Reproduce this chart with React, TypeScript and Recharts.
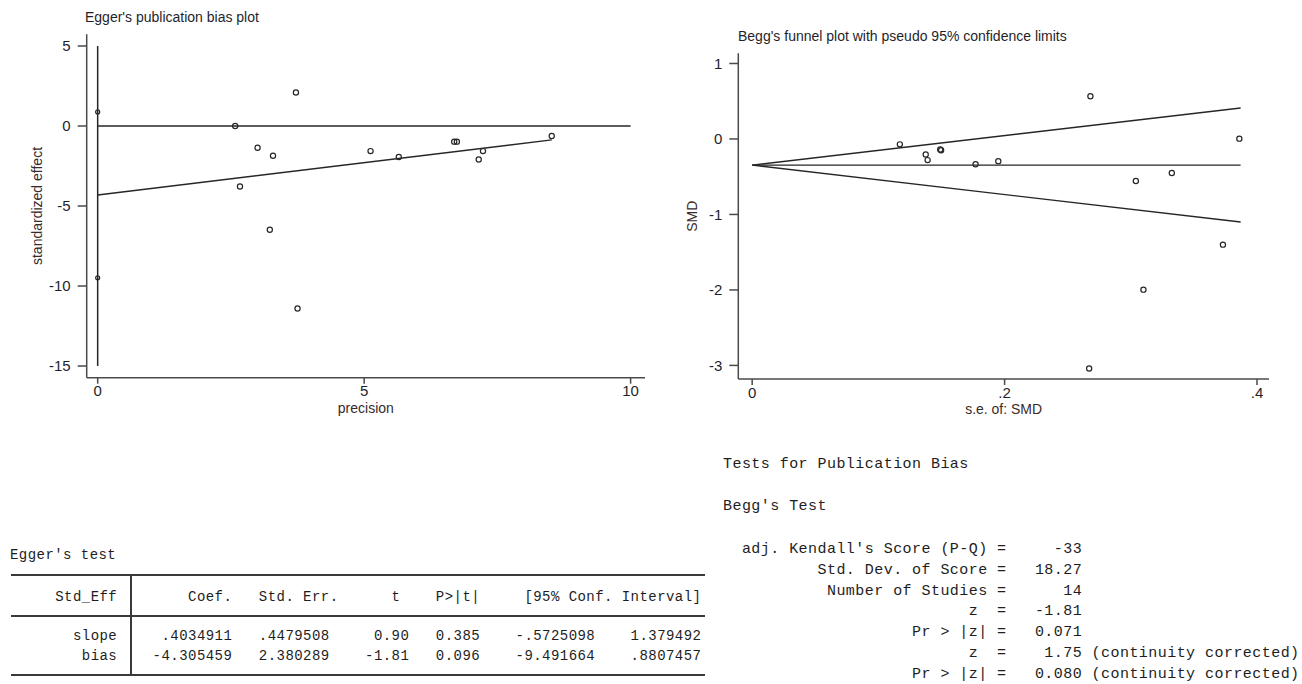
import { Label, ReferenceLine, Scatter, ScatterChart, XAxis, YAxis } from "recharts";

// Egger's plot: precision vs standardized effect
const eggerPrecision = [2.58, 2.67, 3.0, 3.23, 3.29, 3.72, 3.75, 5.12, 5.65, 6.69, 6.74, 7.15, 7.23, 8.52];
const eggerEffect = [0.0, -3.78, -1.36, -6.48, -1.86, 2.09, -11.41, -1.57, -1.94, -0.98, -0.98, -2.09, -1.57, -0.63];
const eggerCi = [0.88, -9.49];
const eggerFitX = [0, 8.52];
const eggerFitY = [-4.31, -0.87];
const eggerVLine = [-15, 5];
const eggerZeroLine = [0, 10];
const eggerXTicks = [0, 5, 10];
const eggerYTicks = [-15, -10, -5, 0, 5];

// Begg's funnel: s.e. vs SMD
const beggSe = [0.117, 0.1375, 0.139, 0.149, 0.1497, 0.177, 0.195, 0.268, 0.267, 0.304, 0.31, 0.3325, 0.373, 0.386];
const beggSmd = [-0.071, -0.205, -0.28, -0.14, -0.15, -0.334, -0.294, 0.566, -3.04, -0.557, -1.996, -0.45, -1.4, 0.004];
const beggPooled = -0.347;
const beggSeMax = 0.387;
const beggUpperEnd = 0.41;
const beggLowerEnd = -1.1;
const beggXTicks = [0, 0.2, 0.4];
const beggYTicks = [-3, -2, -1, 0, 1];

const eggerTable = [
  "     Std_Eff        Coef.   Std. Err.      t    P>|t|     [95% Conf. Interval]",
  "       slope     .4034911   .4479508     0.90   0.385    -.5725098    1.379492",
  "        bias    -4.305459   2.380289    -1.81   0.096    -9.491664    .8807457",
];

const beggLines = [
  "Tests for Publication Bias",
  "",
  "Begg's Test",
  "",
  "  adj. Kendall's Score (P-Q) =     -33",
  "          Std. Dev. of Score =   18.27",
  "           Number of Studies =      14",
  "                          z  =   -1.81",
  "                    Pr > |z| =   0.071",
  "                          z  =    1.75 (continuity corrected)",
  "                    Pr > |z| =   0.080 (continuity corrected)",
];

const SANS = '"Liberation Sans", Arial, sans-serif';
const MONO = '"Liberation Mono", "DejaVu Sans Mono", monospace';
const INK = "#262626";
const AXIS = "#4a4a4a";

const eggerPts = eggerPrecision.map((x, i) => ({ x, y: eggerEffect[i] }));
const eggerCiPts = eggerCi.map((y) => ({ x: 0, y }));
const beggPts = beggSe.map((x, i) => ({ x, y: beggSmd[i] }));

const ring = (r: number) => (p: any) => (
  <circle cx={p.cx} cy={p.cy} r={r} fill="none" stroke={INK} strokeWidth={1.2} />
);

const tickStyle = { fontSize: 15, fill: "#1f1f2a", fontFamily: SANS };
const fmtSe = (v: number) => (v === 0 ? "0" : String(v).replace(/^0/, ""));

function xTitle(text: string, dy: number) {
  return (p: any) => {
    const vb = p.viewBox;
    return (
      <text x={vb.x + vb.width / 2} y={vb.y + dy} textAnchor="middle" fontSize={14} fontFamily={SANS} fill="#3a2a2a">
        {text}
      </text>
    );
  };
}

function yTitle(text: string, bx: number) {
  return (p: any) => {
    const vb = p.viewBox;
    const cy = vb.y + vb.height / 2;
    return (
      <text x={bx} y={cy} transform={`rotate(-90, ${bx}, ${cy})`} textAnchor="middle" fontSize={14} fontFamily={SANS} fill="#3a2a2a">
        {text}
      </text>
    );
  };
}

function EggerPlot() {
  return (
    <ScatterChart width={660} height={420} margin={{ top: 34.3, right: 15, left: 26.7, bottom: 12.3 }}>
      <XAxis type="number" dataKey="x" domain={[-0.206, 10.27]} ticks={eggerXTicks} allowDataOverflow
        stroke={AXIS} strokeWidth={1.5} tick={tickStyle} tickSize={6} tickMargin={2} height={30}>
        <Label content={xTitle("precision", 35)} />
      </XAxis>
      <YAxis type="number" dataKey="y" domain={[-15.73, 5.73]} ticks={eggerYTicks} allowDataOverflow
        stroke={AXIS} strokeWidth={1.5} tick={tickStyle} tickSize={9} tickMargin={7} width={60}>
        <Label content={yTitle("standardized effect", 42)} />
      </YAxis>
      <ReferenceLine segment={[{ x: 0, y: eggerVLine[0] }, { x: 0, y: eggerVLine[1] }]} stroke={INK} strokeWidth={1.5} />
      <ReferenceLine segment={[{ x: eggerZeroLine[0], y: 0 }, { x: eggerZeroLine[1], y: 0 }]} stroke={INK} strokeWidth={1.5} />
      <ReferenceLine segment={[{ x: eggerFitX[0], y: eggerFitY[0] }, { x: eggerFitX[1], y: eggerFitY[1] }]} stroke={INK} strokeWidth={1.4} />
      <Scatter data={eggerCiPts} shape={ring(2)} isAnimationActive={false} />
      <Scatter data={eggerPts} shape={ring(2.6)} isAnimationActive={false} />
    </ScatterChart>
  );
}

function BeggPlot() {
  return (
    <ScatterChart width={642} height={400} margin={{ top: 33.3, right: 33, left: 18.3, bottom: 11 }}>
      <XAxis type="number" dataKey="x" domain={[-0.011, 0.4095]} ticks={beggXTicks} allowDataOverflow
        stroke={AXIS} strokeWidth={1.5} tick={tickStyle} tickFormatter={fmtSe} tickSize={6} tickMargin={2} height={30}>
        <Label content={xTitle("s.e. of: SMD", 35)} />
      </XAxis>
      <YAxis type="number" dataKey="y" domain={[-3.18, 1.135]} ticks={beggYTicks} allowDataOverflow
        stroke={AXIS} strokeWidth={1.5} tick={tickStyle} tickSize={9} tickMargin={7} width={60}>
        <Label content={yTitle("SMD", 36.6)} />
      </YAxis>
      <ReferenceLine segment={[{ x: 0, y: beggPooled }, { x: beggSeMax, y: beggPooled }]} stroke={INK} strokeWidth={1.4} />
      <ReferenceLine segment={[{ x: 0, y: beggPooled }, { x: beggSeMax, y: beggUpperEnd }]} stroke={INK} strokeWidth={1.4} />
      <ReferenceLine segment={[{ x: 0, y: beggPooled }, { x: beggSeMax, y: beggLowerEnd }]} stroke={INK} strokeWidth={1.4} />
      <Scatter data={beggPts} shape={ring(2.6)} isAnimationActive={false} />
    </ScatterChart>
  );
}

function MonoLine({ x, y, size, spacing, text }: { x: number; y: number; size: number; spacing: number; text: string }) {
  return (
    <div style={{ position: "absolute", left: x, top: y - 10, fontFamily: MONO, fontSize: size, letterSpacing: spacing,
      lineHeight: "20px", whiteSpace: "pre", color: "#1e1e1e" }}>
      {text}
    </div>
  );
}

const rule = (left: number, top: number, width: number, height: number) => (
  <div style={{ position: "absolute", left, top, width, height, background: "#3a3a3a" }} />
);

export default function App() {
  const tableRows = [597, 636, 656];
  const beggTextY = [465, 0, 506.5, 0, 550, 570.8, 591.6, 612.4, 633.2, 654, 674.8];
  return (
    <div style={{ position: "absolute", left: 0, top: 0, width: 1302, height: 684, background: "#fff", overflow: "hidden" }}>
      <div style={{ position: "absolute", left: 0, top: 0 }}>
        <EggerPlot />
      </div>
      <div style={{ position: "absolute", left: 660, top: 20 }}>
        <BeggPlot />
      </div>
      <div style={{ position: "absolute", left: 85, top: 9.8, fontFamily: SANS, fontSize: 14, lineHeight: "14px", color: "#1f1f2a", whiteSpace: "nowrap" }}>
        Egger's publication bias plot
      </div>
      <div style={{ position: "absolute", left: 738, top: 28.8, fontFamily: SANS, fontSize: 14, lineHeight: "14px", color: "#1f1f2a", whiteSpace: "nowrap" }}>
        Begg's funnel plot with pseudo 95% confidence limits
      </div>

      <MonoLine x={10} y={555} size={14} spacing={0.45} text="Egger's test" />
      {rule(11, 574, 694, 1.5)}
      {rule(11, 615, 694, 2)}
      {rule(11, 674, 694, 1.5)}
      {rule(130, 574, 1.5, 101.5)}
      {eggerTable.map((t, i) => (
        <MonoLine key={i} x={11} y={tableRows[i]} size={14} spacing={0.45} text={t} />
      ))}

      {beggLines.map((t, i) =>
        t ? <MonoLine key={i} x={723} y={beggTextY[i]} size={15} spacing={0.45} text={t} /> : null
      )}
    </div>
  );
}
